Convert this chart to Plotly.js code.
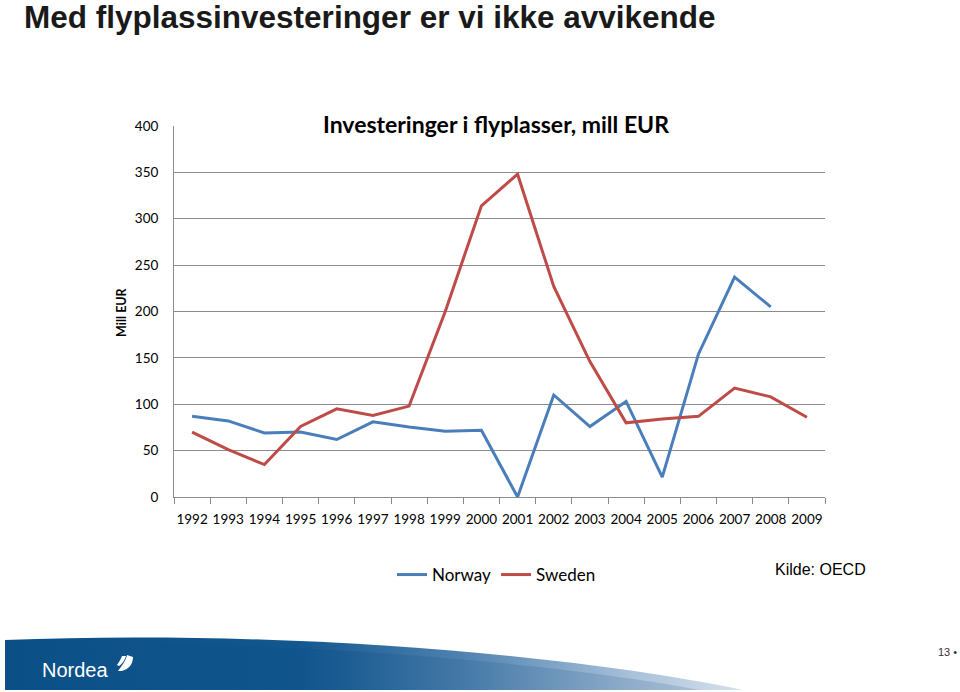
<!DOCTYPE html>
<html>
<head>
<meta charset="utf-8">
<script src="https://cdn.plot.ly/plotly-3.0.1.min.js"></script>
<style>
  html, body { margin: 0; padding: 0; background: #ffffff; }
  #wrap { position: relative; width: 960px; height: 692px; overflow: hidden; }
  #chart { position: absolute; left: 0; top: 0; width: 960px; height: 692px; }
  #footer { position: absolute; left: 0; top: 0; width: 960px; height: 692px; pointer-events: none; }
</style>
</head>
<body>
<div id="wrap">
  <div id="chart"></div>
  <svg id="footer" width="960" height="692" xmlns="http://www.w3.org/2000/svg">
    <defs>
      <linearGradient id="band" x1="5" y1="0" x2="743" y2="0" gradientUnits="userSpaceOnUse">
        <stop offset="0" stop-color="#0a4f86"/>
        <stop offset="0.40" stop-color="#135790"/>
        <stop offset="0.62" stop-color="#4f82b0"/>
        <stop offset="0.85" stop-color="#a9c1d9"/>
        <stop offset="1" stop-color="#d6e1ed"/>
      </linearGradient>
      <linearGradient id="band2" x1="5" y1="0" x2="743" y2="0" gradientUnits="userSpaceOnUse">
        <stop offset="0" stop-color="#0a4f86" stop-opacity="0"/>
        <stop offset="0.45" stop-color="#0d4f85" stop-opacity="0.35"/>
        <stop offset="1" stop-color="#7f9fc0" stop-opacity="0.35"/>
      </linearGradient>
    </defs>
    <path d="M5,640 C250,630 550,650 743,690 L5,690 Z" fill="url(#band)"/>
    <path d="M5,644 C260,638 540,660 700,690 L5,690 Z" fill="url(#band2)"/>
    <text x="42" y="677" fill="#ffffff" font-family="Liberation Sans, Arial, sans-serif" font-size="20">Nordea</text>
    <path d="M118,671 C122,666 126,660 127,655 L133,657 C133,664 129,669 122,671 Z" fill="#ffffff"/>
    <path d="M117,665 C119,662 121,659 122,656 L126,656 C125,660 122,664 119,666 Z" fill="#ffffff"/>
    <text x="938" y="656" fill="#333333" font-family="Liberation Sans, Arial, sans-serif" font-size="11">13 •</text>
  </svg>
</div>
<script>
  var years = ["1992","1993","1994","1995","1996","1997","1998","1999","2000",
               "2001","2002","2003","2004","2005","2006","2007","2008","2009"];
  var norway = [87, 82, 69, 70, 62, 81, 75.5, 71, 72, 0, 110, 76, 103, 21.5, 154, 237, 205, null];
  var sweden = [70, 51, 35, 76, 95, 88, 98, 200, 314, 348, 227, 146, 80, 84, 87, 117.5, 108, 86];
  var yTicks = [0, 50, 100, 150, 200, 250, 300, 350, 400];

  var chartFont = "Lato, 'Open Sans', sans-serif";

  var traces = [
    {
      x: years, y: norway, name: "Norway", type: "scatter", mode: "lines",
      line: { color: "#4A7EBB", width: 3 }, connectgaps: false
    },
    {
      x: years, y: sweden, name: "Sweden", type: "scatter", mode: "lines",
      line: { color: "#BE4B48", width: 3 }
    }
  ];

  var layout = {
    width: 960, height: 692,
    margin: { l: 174, r: 135, t: 126, b: 195, pad: 0 },
    paper_bgcolor: "rgba(0,0,0,0)",
    plot_bgcolor: "rgba(0,0,0,0)",
    font: { family: chartFont, size: 13, color: "#000000" },
    title: {
      text: "Med flyplassinvesteringer er vi ikke avvikende",
      xref: "container", yref: "container",
      x: 24 / 960, xanchor: "left",
      y: 1 - 17 / 692, yanchor: "middle",
      font: { family: "'Liberation Sans Narrow', 'Arial Narrow', 'Liberation Sans', sans-serif", size: 31.5, weight: "bold", color: "#1a1a1a" }
    },
    xaxis: {
      type: "category",
      range: [-0.5, 17.5],
      showgrid: false,
      zeroline: false,
      showline: true, linecolor: "#8c8c8c", linewidth: 1,
      ticks: "outside", tickson: "boundaries", ticklen: 6, tickcolor: "#8c8c8c", tickwidth: 1,
      ticklabelstandoff: 10,
      tickangle: 0,
      tickfont: { family: chartFont, size: 13.5, color: "#000000" },
      fixedrange: true
    },
    yaxis: {
      range: [0, 400],
      tickvals: yTicks,
      ticktext: yTicks.map(String),
      showgrid: true, gridcolor: "#8c8c8c", gridwidth: 1,
      zeroline: false,
      showline: true, linecolor: "#8c8c8c", linewidth: 1,
      ticks: "",
      ticklabelstandoff: 12,
      tickfont: { family: chartFont, size: 13.5, color: "#000000" },
      fixedrange: true
    },
    showlegend: true,
    legend: {
      orientation: "h",
      x: (392 - 174) / 651, xanchor: "left",
      y: (497 - 575) / 371, yanchor: "middle",
      font: { family: chartFont, size: 17, color: "#000000" },
      bgcolor: "rgba(0,0,0,0)",
      itemwidth: 30,
      tracegroupgap: 0
    },
    annotations: [
      {
        text: "<b>Investeringer i flyplasser, mill EUR</b>",
        xref: "paper", yref: "paper",
        x: (496 - 174) / 651, xanchor: "center",
        y: (497 - 124) / 371, yanchor: "middle",
        showarrow: false,
        font: { family: chartFont, size: 23, color: "#000000" }
      },
      {
        text: "<b>Mill EUR</b>",
        xref: "paper", yref: "paper",
        x: (121 - 174) / 651, xanchor: "center",
        y: (497 - 312) / 371, yanchor: "middle",
        textangle: -90,
        showarrow: false,
        font: { family: chartFont, size: 12.5, color: "#000000" }
      },
      {
        text: "Kilde: OECD",
        xref: "paper", yref: "paper",
        x: (773 - 174) / 651, xanchor: "left",
        y: (497 - 569) / 371, yanchor: "middle",
        showarrow: false,
        font: { family: "'Liberation Sans', Arial, sans-serif", size: 16, color: "#000000" }
      }
    ]
  };

  Plotly.newPlot("chart", traces, layout, { displayModeBar: false, staticPlot: true });
</script>
</body>
</html>
